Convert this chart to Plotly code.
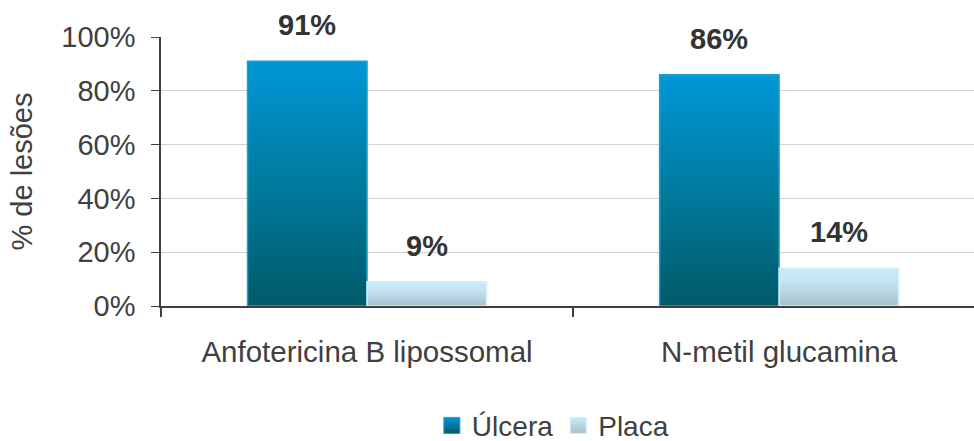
import plotly.graph_objects as go

# Data
categories = ["Anfotericina B lipossomal", "N-metil glucamina"]
series_names = ["Úlcera", "Placa"]
ulcera = [91, 86]
placa = [9, 14]
y_ticks = [0, 20, 40, 60, 80, 100]

series_values = [ulcera, placa]
# gradient fills (bottom -> top) and outlines per series
gradients = [
    [[0, "#005A69"], [0.5, "#007B9E"], [1, "#0097D8"]],
    [[0, "#A8C1CB"], [0.65, "#C4E4F3"], [1, "#CAEAF9"]],
]
key_colors = [("#0096D6", "#005A69"), ("#CAEAF9", "#A8C1CB")]
outlines = ["#1AA3C4", "#D2EFFB"]
bar_width = 0.29
offsets = [-bar_width, 0.0]
FONT = "Liberation Sans, Arial"

fig = go.Figure()

for s, (name, vals) in enumerate(zip(series_names, series_values)):
    for i, v in enumerate(vals):
        x0 = i + offsets[s]
        x1 = x0 + bar_width
        fig.add_trace(go.Scatter(
            x=[x0, x0, x1, x1, x0],
            y=[0, v, v, 0, 0],
            mode="lines",
            fill="toself",
            fillgradient=dict(type="vertical", colorscale=gradients[s], start=0, stop=v),
            line=dict(color=outlines[s], width=1.5),
            name=name,
            legendgroup=name,
            showlegend=False,
            hoverinfo="skip",
        ))
        fig.add_annotation(
            x=x0 + bar_width / 2, y=v, text=f"<b>{v}%</b>",
            showarrow=False, yanchor="bottom", yshift=18,
            font=dict(family=FONT, size=29, color="#333333"),
        )
    # square legend key for the series
    top, bottom = key_colors[s]
    fig.add_trace(go.Scatter(
        x=[None], y=[None], mode="markers", name=name, legendgroup=name,
        marker=dict(symbol="square", size=16, color=top,
                    gradient=dict(type="vertical", color=bottom),
                    line=dict(color=outlines[s], width=1)),
    ))

fig.update_layout(
    width=974, height=441,
    margin=dict(l=161, r=0, t=37, b=135, autoexpand=False),
    plot_bgcolor="white", paper_bgcolor="white",
    font=dict(family=FONT, size=29, color="#404040"),
    showlegend=True,
    legend=dict(
        orientation="h", x=0.482, xanchor="center", y=-0.445, yanchor="middle",
        font=dict(size=28, color="#404040"), itemsizing="trace", itemwidth=30,
        tracegroupgap=0,
    ),
)

fig.update_xaxes(
    range=[-0.5, 1.473],
    tickmode="array", tickvals=list(range(len(categories))), ticktext=categories,
    ticks="", showgrid=False, zeroline=False,
    showline=True, linecolor="#404040", linewidth=1.5,
    ticklabelstandoff=19,
    tickfont=dict(size=29.5),
    minor=dict(tickmode="array", tickvals=[-0.5, 0.5, 1.5], ticks="outside",
               ticklen=9, tickcolor="#404040", tickwidth=1.5, showgrid=False),
)

fig.update_yaxes(
    range=[0, 100], tickmode="array", tickvals=y_ticks,
    ticktext=[f"{t}%" for t in y_ticks],
    ticks="outside", ticklen=8, tickcolor="#404040",
    showgrid=True, gridcolor="#D8CFCF", gridwidth=1,
    zeroline=False, showline=True, linecolor="#404040", linewidth=1.5,
    ticklabelstandoff=10,
    title=dict(text="% de lesões", standoff=20, font=dict(size=29, color="#404040")),
)

fig.write_html("out.html")
